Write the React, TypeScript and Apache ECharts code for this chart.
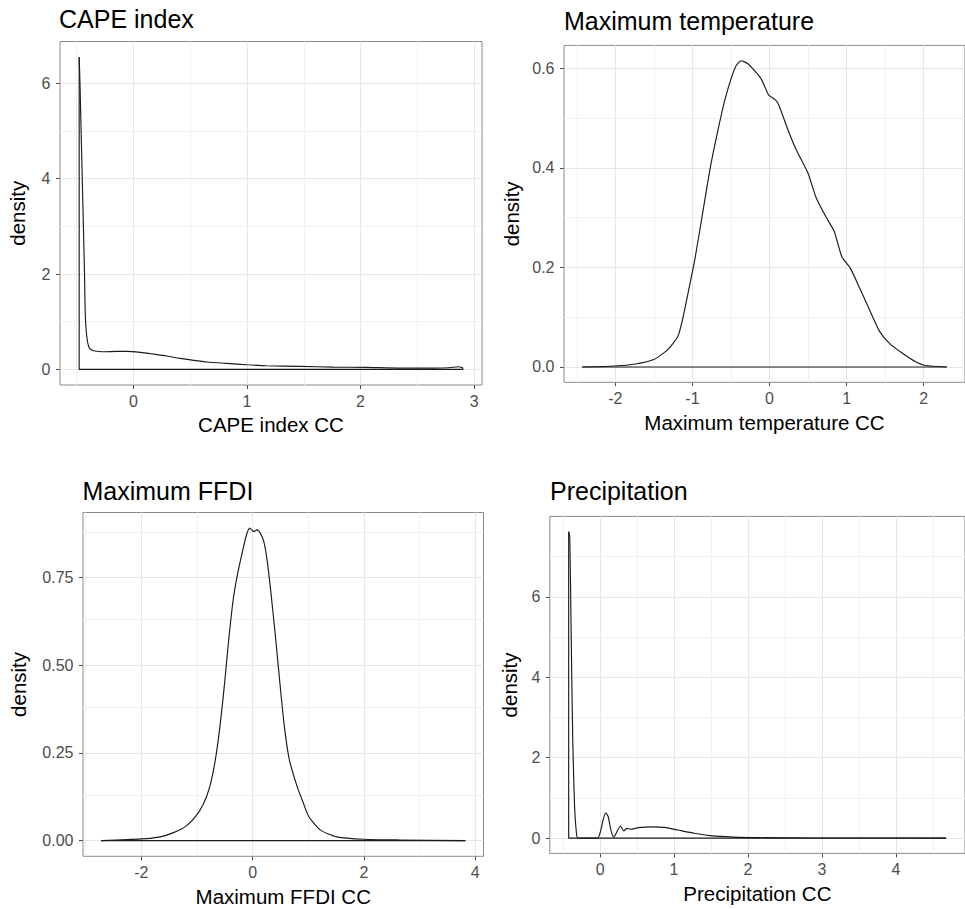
import React, { useEffect, useRef } from "react";
import * as echarts from "echarts";

// ---------- data: density curves ----------
const capeX = [-0.477, -0.47, -0.46, -0.45, -0.44, -0.43, -0.425, -0.418, -0.405, -0.39, -0.37, -0.34, -0.27, -0.143, -0.056, 0.061, 0.179, 0.296, 0.41, 0.53, 0.65, 0.82, 1.0, 1.17, 1.47, 1.76, 2.05, 2.35, 2.64, 2.78, 2.86, 2.9];
const capeY = [6.55, 6.0, 5.0, 4.0, 3.0, 2.0, 1.3, 0.9, 0.6, 0.46, 0.41, 0.385, 0.37, 0.378, 0.378, 0.357, 0.32, 0.28, 0.23, 0.19, 0.155, 0.126, 0.098, 0.077, 0.063, 0.049, 0.042, 0.028, 0.028, 0.035, 0.056, 0.035];

const tempX = [-2.43, -2.0, -1.74, -1.5, -1.32, -1.19, -1.13, -1.04, -0.97, -0.875, -0.77, -0.66, -0.58, -0.49, -0.43, -0.37, -0.28, -0.2, -0.11, -0.05, -0.01, 0.08, 0.12, 0.25, 0.35, 0.5, 0.6, 0.73, 0.84, 0.94, 1.05, 1.18, 1.3, 1.43, 1.56, 1.73, 1.89, 2.02, 2.3];
const tempY = [0, 0.002, 0.006, 0.015, 0.035, 0.061, 0.094, 0.161, 0.215, 0.302, 0.399, 0.482, 0.536, 0.583, 0.606, 0.615, 0.609, 0.596, 0.579, 0.559, 0.546, 0.536, 0.526, 0.472, 0.435, 0.389, 0.342, 0.302, 0.272, 0.221, 0.198, 0.155, 0.114, 0.071, 0.047, 0.027, 0.011, 0.003, 0];

const ffdiX = [-2.72, -2.0, -1.66, -1.42, -1.21, -1.03, -0.88, -0.77, -0.67, -0.58, -0.51, -0.43, -0.35, -0.28, -0.19, -0.11, -0.05, 0.02, 0.08, 0.14, 0.2, 0.26, 0.33, 0.41, 0.49, 0.57, 0.66, 0.8, 0.89, 1.01, 1.22, 1.51, 2.0, 2.65, 3.82];
const ffdiY = [0, 0.005, 0.011, 0.023, 0.04, 0.068, 0.106, 0.154, 0.23, 0.335, 0.439, 0.572, 0.686, 0.753, 0.819, 0.872, 0.891, 0.881, 0.886, 0.876, 0.853, 0.8, 0.705, 0.582, 0.449, 0.325, 0.23, 0.154, 0.116, 0.068, 0.03, 0.011, 0.004, 0.002, 0];

const precX = [-0.425, -0.41, -0.39, -0.37, -0.345, -0.32, -0.3, -0.035, 0.01, 0.04, 0.075, 0.11, 0.146, 0.186, 0.217, 0.275, 0.32, 0.363, 0.41, 0.52, 0.7, 0.87, 1.05, 1.27, 1.49, 1.8, 2.16, 2.82, 4.68];
const precY = [7.62, 7.49, 4.92, 2.43, 0.78, 0.12, 0, 0, 0.2, 0.45, 0.63, 0.53, 0.2, 0.02, 0.12, 0.3, 0.18, 0.24, 0.22, 0.26, 0.28, 0.265, 0.2, 0.12, 0.06, 0.025, 0.01, 0.003, 0];

// ---------- tick / grid breaks ----------
const capeXMajor = [0, 1, 2, 3];
const capeXMinor = [-0.5, 0.5, 1.5, 2.5];
const capeYMajor = [0, 2, 4, 6];
const capeYMinor = [1, 3, 5];

const tempXMajor = [-2, -1, 0, 1, 2];
const tempXMinor = [-2.5, -1.5, -0.5, 0.5, 1.5, 2.5];
const tempYMajor = [0, 0.2, 0.4, 0.6];
const tempYMinor = [0.1, 0.3, 0.5];

const ffdiXMajor = [-2, 0, 2, 4];
const ffdiXMinor = [-3, -1, 1, 3];
const ffdiYMajor = [0, 0.25, 0.5, 0.75];
const ffdiYMinor = [0.125, 0.375, 0.625, 0.875];

const precXMajor = [0, 1, 2, 3, 4];
const precXMinor = [-0.5, 0.5, 1.5, 2.5, 3.5, 4.5];
const precYMajor = [0, 2, 4, 6];
const precYMinor = [1, 3, 5, 7];

const titles = ["CAPE index", "Maximum temperature", "Maximum FFDI", "Precipitation"];
const xNames = ["CAPE index CC", "Maximum temperature CC", "Maximum FFDI CC", "Precipitation CC"];

const FONT = "'Liberation Sans', Arial, Helvetica, sans-serif";

type Panel = {
  xs: number[];
  ys: number[];
  xMajor: number[];
  xMinor: number[];
  yMajor: number[];
  yMinor: number[];
  yDigits: number;
  grid: { left: number; top: number; width: number; height: number };
  titlePos: { left: number; top: number };
  yNameGap: number;
};

const panels: Panel[] = [
  { xs: capeX, ys: capeY, xMajor: capeXMajor, xMinor: capeXMinor, yMajor: capeYMajor, yMinor: capeYMinor, yDigits: 0,
    grid: { left: 60, top: 41.5, width: 422, height: 343.5 }, titlePos: { left: 59, top: 6.1 }, yNameGap: 32 },
  { xs: tempX, ys: tempY, xMajor: tempXMajor, xMinor: tempXMinor, yMajor: tempYMajor, yMinor: tempYMinor, yDigits: 1,
    grid: { left: 564, top: 45.4, width: 410.3, height: 336.9 }, titlePos: { left: 564, top: 8.1 }, yNameGap: 42 },
  { xs: ffdiX, ys: ffdiY, xMajor: ffdiXMajor, xMinor: ffdiXMinor, yMajor: ffdiYMajor, yMinor: ffdiYMinor, yDigits: 2,
    grid: { left: 83, top: 512.5, width: 400.5, height: 343.8 }, titlePos: { left: 82.5, top: 478.8 }, yNameGap: 54.5 },
  { xs: precX, ys: precY, xMajor: precXMajor, xMinor: precXMinor, yMajor: precYMajor, yMinor: precYMinor, yDigits: 0,
    grid: { left: 549.8, top: 516.4, width: 422.5, height: 337 }, titlePos: { left: 550, top: 478.8 }, yNameGap: 30.2 },
];

function buildOption() {
  const grids: any[] = [];
  const xAxes: any[] = [];
  const yAxes: any[] = [];
  const series: any[] = [];
  const titleArr: any[] = [];
  const majorStyle = { color: "#E6E6E6", width: 1, type: "solid" };
  const minorStyle = { color: "#F1F1F1", width: 1, type: "solid" };
  const curveStyle = { color: "#1a1a1a", width: 1.15 };

  panels.forEach((p, i) => {
    const xMin = Math.min(...p.xs);
    const xMax = Math.max(...p.xs);
    const yMax = Math.max(...p.ys);
    const xSpan = xMax - xMin;
    const xLo = xMin - 0.05 * xSpan;
    const xHi = xMax + 0.05 * xSpan;
    const yLo = -0.05 * yMax;
    const yHi = 1.05 * yMax;
    const n = p.xs.length;

    grids.push({
      ...p.grid,
      containLabel: false,
      show: true,
      backgroundColor: "#ffffff",
      borderColor: "#8a8a8a",
      borderWidth: 1,
    });
    titleArr.push({
      text: titles[i],
      left: p.titlePos.left,
      top: p.titlePos.top,
      padding: 0,
      textStyle: { fontSize: 25, fontWeight: "normal", color: "#000", fontFamily: FONT },
    });
    const inX = (v: number) => v >= xLo && v <= xHi;
    const inY = (v: number) => v >= yLo && v <= yHi;
    xAxes.push({
      type: "value",
      gridIndex: i,
      min: xLo,
      max: xHi,
      name: xNames[i],
      nameLocation: "middle",
      nameGap: 29.3,
      nameTextStyle: { fontSize: 20.5, color: "#000", fontFamily: FONT },
      axisLine: { show: false, onZero: false },
      axisTick: { show: true, length: 4, customValues: p.xMajor.filter(inX), lineStyle: { color: "#4d4d4d", width: 1 } },
      axisLabel: {
        show: true,
        customValues: p.xMajor.filter(inX),
        margin: 8,
        fontSize: 16,
        color: "#4D4D4D",
        fontFamily: FONT,
        formatter: (v: number) => String(Math.round(v)),
      },
      splitLine: { show: false },
      minorSplitLine: { show: false },
    });
    yAxes.push({
      type: "value",
      gridIndex: i,
      min: yLo,
      max: yHi,
      name: "density",
      nameLocation: "middle",
      nameRotate: 90,
      nameGap: p.yNameGap,
      nameTextStyle: { fontSize: 20.5, color: "#000", fontFamily: FONT },
      axisLine: { show: false, onZero: false },
      axisTick: { show: true, length: 4, customValues: p.yMajor.filter(inY), lineStyle: { color: "#4d4d4d", width: 1 } },
      axisLabel: {
        show: true,
        customValues: p.yMajor.filter(inY),
        margin: 9.5,
        fontSize: 16,
        color: "#4D4D4D",
        fontFamily: FONT,
        formatter: (v: number) => v.toFixed(p.yDigits),
      },
      splitLine: { show: false },
      minorSplitLine: { show: false },
    });
    // density curve
    series.push({
      type: "line",
      xAxisIndex: i,
      yAxisIndex: i,
      data: p.xs.map((x, k) => [x, p.ys[k]]),
      symbol: "none",
      showSymbol: false,
      smooth: 0.2,
      silent: true,
      z: 3,
      lineStyle: curveStyle,
      markLine: {
        silent: true,
        z: 1,
        symbol: ["none", "none"],
        label: { show: false },
        emphasis: { disabled: true },
        animation: false,
        data: [
          ...p.xMinor.filter(inX).map((v) => ({ xAxis: v, lineStyle: minorStyle })),
          ...p.yMinor.filter(inY).map((v) => ({ yAxis: v, lineStyle: minorStyle })),
          ...p.xMajor.filter(inX).map((v) => ({ xAxis: v, lineStyle: majorStyle })),
          ...p.yMajor.filter(inY).map((v) => ({ yAxis: v, lineStyle: majorStyle })),
        ],
      },
    });
    // polygon closure: end drop, baseline, start rise (as in geom_density outline)
    series.push({
      type: "line",
      xAxisIndex: i,
      yAxisIndex: i,
      data: [
        [p.xs[n - 1], p.ys[n - 1]],
        [p.xs[n - 1], 0],
        [p.xs[0], 0],
        [p.xs[0], p.ys[0]],
      ],
      symbol: "none",
      showSymbol: false,
      smooth: false,
      silent: true,
      z: 3,
      lineStyle: curveStyle,
    });
  });

  return {
    animation: false,
    backgroundColor: "#ffffff",
    textStyle: { fontFamily: FONT },
    title: titleArr,
    grid: grids,
    xAxis: xAxes,
    yAxis: yAxes,
    series,
  };
}

export default function App() {
  const ref = useRef<HTMLDivElement>(null);
  useEffect(() => {
    if (!ref.current) return;
    const chart = echarts.init(ref.current, undefined, { renderer: "svg" });
    chart.setOption(buildOption() as any);
    return () => chart.dispose();
  }, []);
  return (
    <div
      ref={ref}
      style={{ position: "absolute", left: 0, top: 0, width: 965, height: 909, background: "#fff" }}
    />
  );
}
